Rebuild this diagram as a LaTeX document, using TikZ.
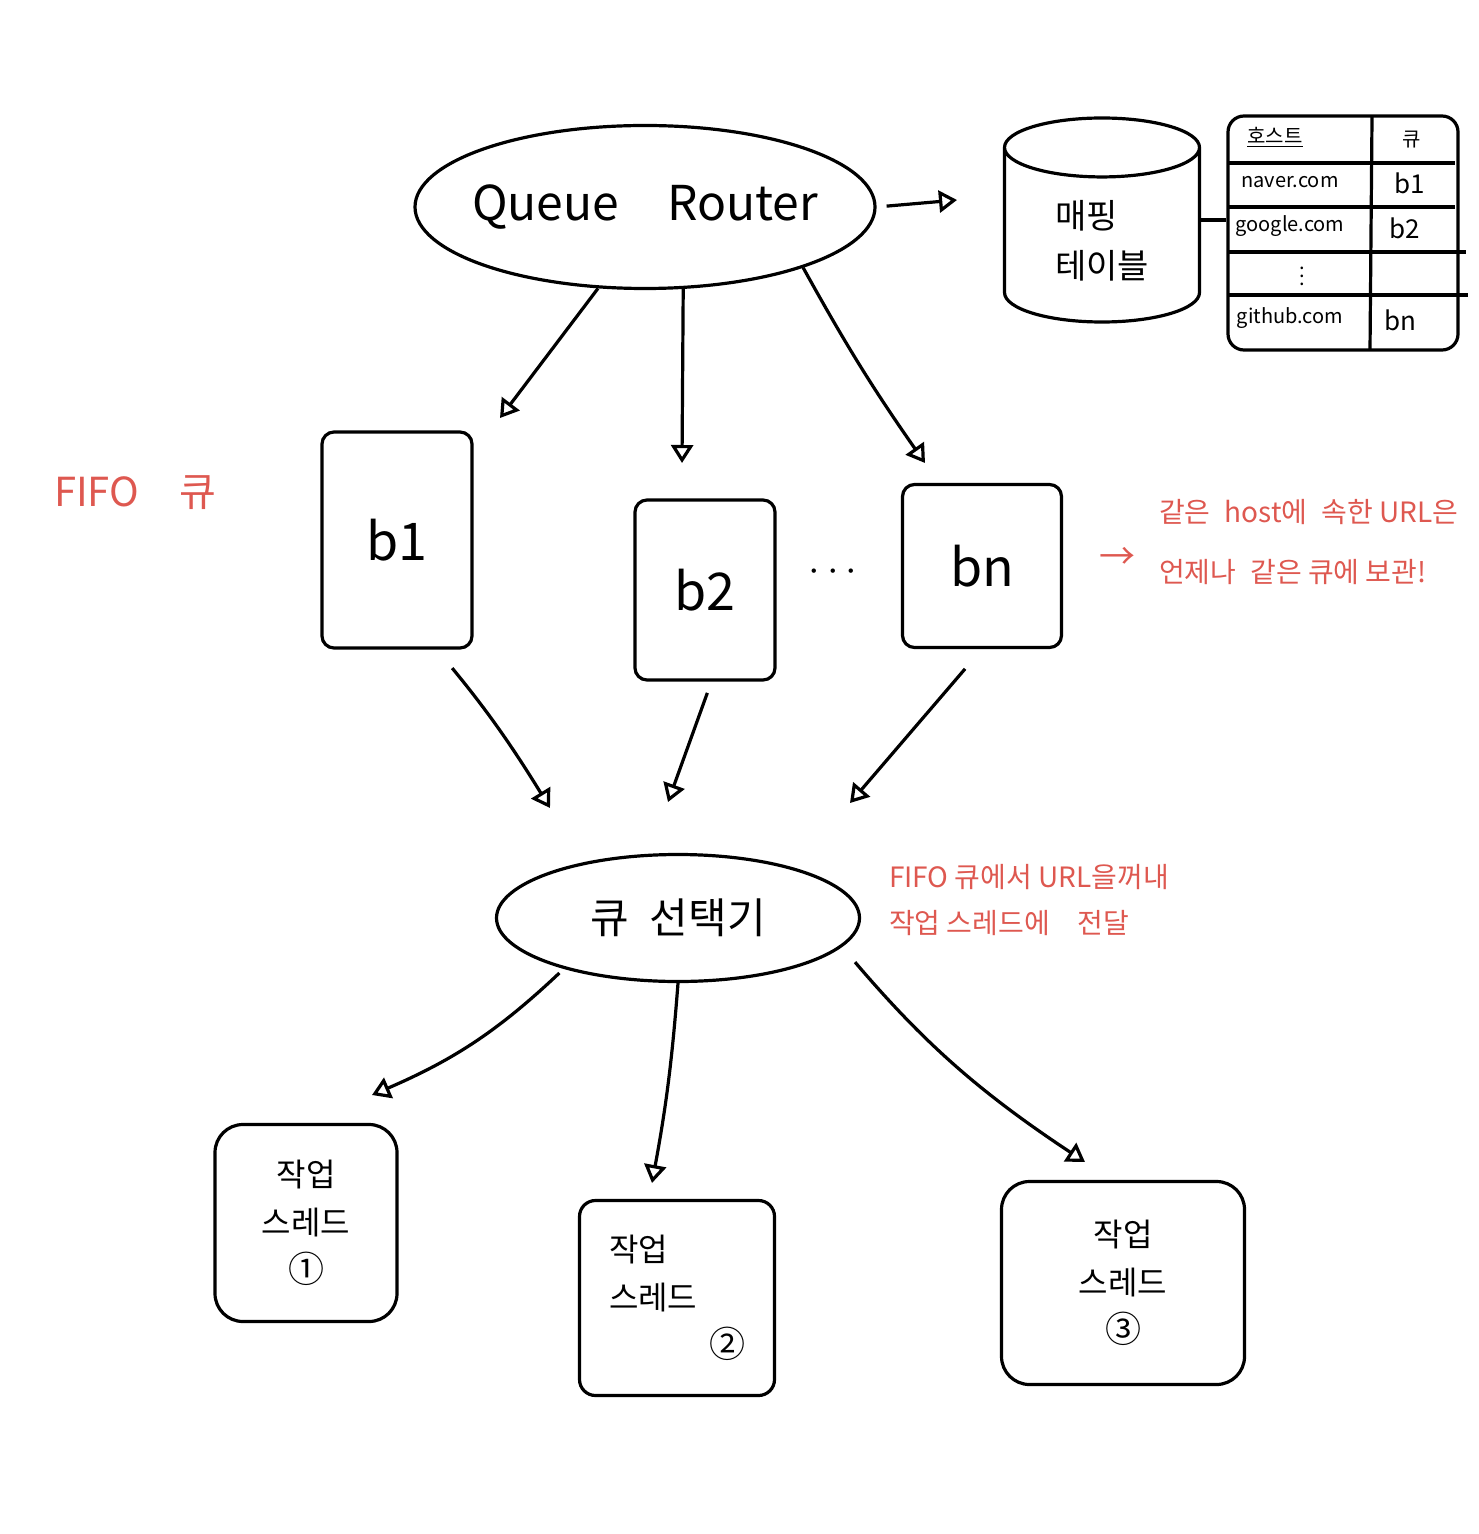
\documentclass[tikz,border=0pt]{standalone}
\usepackage{fontspec}
\setmainfont{Noto Sans CJK KR}
\usetikzlibrary{arrows.meta,shapes.geometric}
\definecolor{penred}{RGB}{222,88,80}

\begin{document}
\begin{tikzpicture}[x=0.5pt,y=-0.5pt,
    sketch/.style={line width=1.6pt},
    arr/.style={sketch,-{Triangle[open,length=9pt,width=11pt]}},
    blob/.style={draw,sketch,ellipse,inner sep=0pt},
    qbox/.style={draw,sketch,rounded corners=6pt,font=\fontsize{26}{30}\selectfont},
    tbox/.style={draw,sketch,rounded corners=14pt,align=center,font=\fontsize{16}{24}\selectfont},
    cell/.style={font=\fontsize{10}{12}\selectfont},
    note/.style={text=penred,align=left}]
    \useasboundingbox (0,0) rectangle (1478,1534);
    % Router, mapping table
    \node[blob,inner xsep=-15pt,minimum width=230pt,minimum height=81.5pt,font=\fontsize{24}{30}\selectfont] (router) at (645,207) {Queue\quad Router};
    \node[cylinder,shape border rotate=90,draw,sketch,aspect=0.55,minimum width=97.5pt,minimum height=102pt,align=left,anchor=shape center,font=\fontsize{17}{25}\selectfont] (mapping) at (1102,220) {매핑\\테이블};
    \node[draw,sketch,rounded corners=8pt,minimum width=115pt,minimum height=117pt] (table) at (1343,233) {};
    \foreach \y/\e in {163/1455,207/1455,252/1466,295/1468}
        \draw[sketch] (1228,\y) -- (\e,\y);
    \draw[sketch] (1372,117) -- (1370,349);
    \draw[sketch] (mapping.shape center -| mapping.east) -- (table.west |- mapping.shape center);
    % Table cells
    \node[cell] (hhost) at (1275,137) {\underline{호스트}};
    \node[cell] (hqueue) at (1412,140) {큐};
    \node[cell] (naver) at (1290,182) {naver.com};
    \node[cell] (google) at (1290,226) {google.com};
    \node[cell] (rdots) at (1302,270) {$\vdots$};
    \node[cell] (github) at (1290,318) {github.com};
    \node[cell,font=\fontsize{13}{14}\selectfont] (nb1) at (1410,183) {b1};
    \node[cell,font=\fontsize{13}{14}\selectfont] (nb2) at (1405,228) {b2};
    \node[cell,font=\fontsize{13}{14}\selectfont] (nbn) at (1400,320) {bn};
    % FIFO queues
    \node[qbox,minimum width=75pt,minimum height=108pt] (b1) at (397,540) {b1};
    \node[qbox,minimum width=70pt,minimum height=90pt] (b2) at (705,590) {b2};
    \node[qbox,minimum width=79.5pt,minimum height=81.5pt] (bn) at (982,566) {bn};
    \node[font=\fontsize{22}{24}\selectfont] (dots) at (833,572) {$\cdots$};
    % Selector and worker threads
    \node[blob,minimum width=181.5pt,minimum height=63.5pt,font=\fontsize{21}{24}\selectfont] (sel) at (678,918) {큐\enspace 선택기};
    \node[tbox,minimum width=91pt,minimum height=98.5pt] (t1) at (306,1223) {작업\\스레드\\{\fontsize{18}{20}\selectfont ①}};
    \node[tbox,rounded corners=8pt,minimum width=97.5pt,minimum height=97.5pt,align=left] (t2) at (677,1298) {작업\\스레드\\\hspace*{50pt}{\fontsize{18}{20}\selectfont ②}};
    \node[tbox,minimum width=121.5pt,minimum height=101.5pt] (t3) at (1123,1283) {작업\\스레드\\{\fontsize{18}{20}\selectfont ③}};
    % Red notes
    \node[note,font=\fontsize{20}{24}\selectfont] (fifo) at (135,493) {FIFO\quad 큐};
    \node[note,font=\fontsize{14}{30}\selectfont,anchor=west] (rule) at (1152,542) {같은\enspace host에\enspace 속한 URL은\\언제나\enspace 같은 큐에 보관!};
    \node[note,font=\fontsize{18}{20}\selectfont] (rulearrow) at (1117,558) {→};
    \node[note,font=\fontsize{14}{23}\selectfont,anchor=west] (selnote) at (882,900) {FIFO 큐에서 URL을꺼내\\작업 스레드에\quad 전달};
    % Arrow ends
    \coordinate (h0) at (957,200);
    \coordinate (h1) at (500,418);
    \coordinate (h2) at (682,463);
    \coordinate (h3) at (925,463);
    \coordinate (h4) at (550,808);
    \coordinate (h5) at (668,802);
    \coordinate (h6) at (850,803);
    \coordinate (h7) at (372,1095);
    \coordinate (h8) at (652,1183);
    \coordinate (h9) at (1085,1162);
    % Arrows
    \draw[arr,shorten <=5pt] (router.east) -- (h0);
    \draw[arr] (router.240) -- (h1);
    \draw[arr] (router.-65) -- (h2);
    \draw[arr] (router.-21) to[bend right=3] (h3);
    \draw[arr,shorten <=12pt] (b1.-70) to[bend left=4] (h4);
    \draw[arr,shorten <=6pt] (b2.-86) -- (h5);
    \draw[arr,shorten <=13pt] (bn.south) -- (h6);
    \draw[arr,shorten <=3pt] (sel.204) to[bend left=10] (h7);
    \draw[arr] (sel.south) to[bend left=3] (h8);
    \draw[arr,shorten <=10pt] (sel.-10) to[bend right=8] (h9);
\end{tikzpicture}
\end{document}
